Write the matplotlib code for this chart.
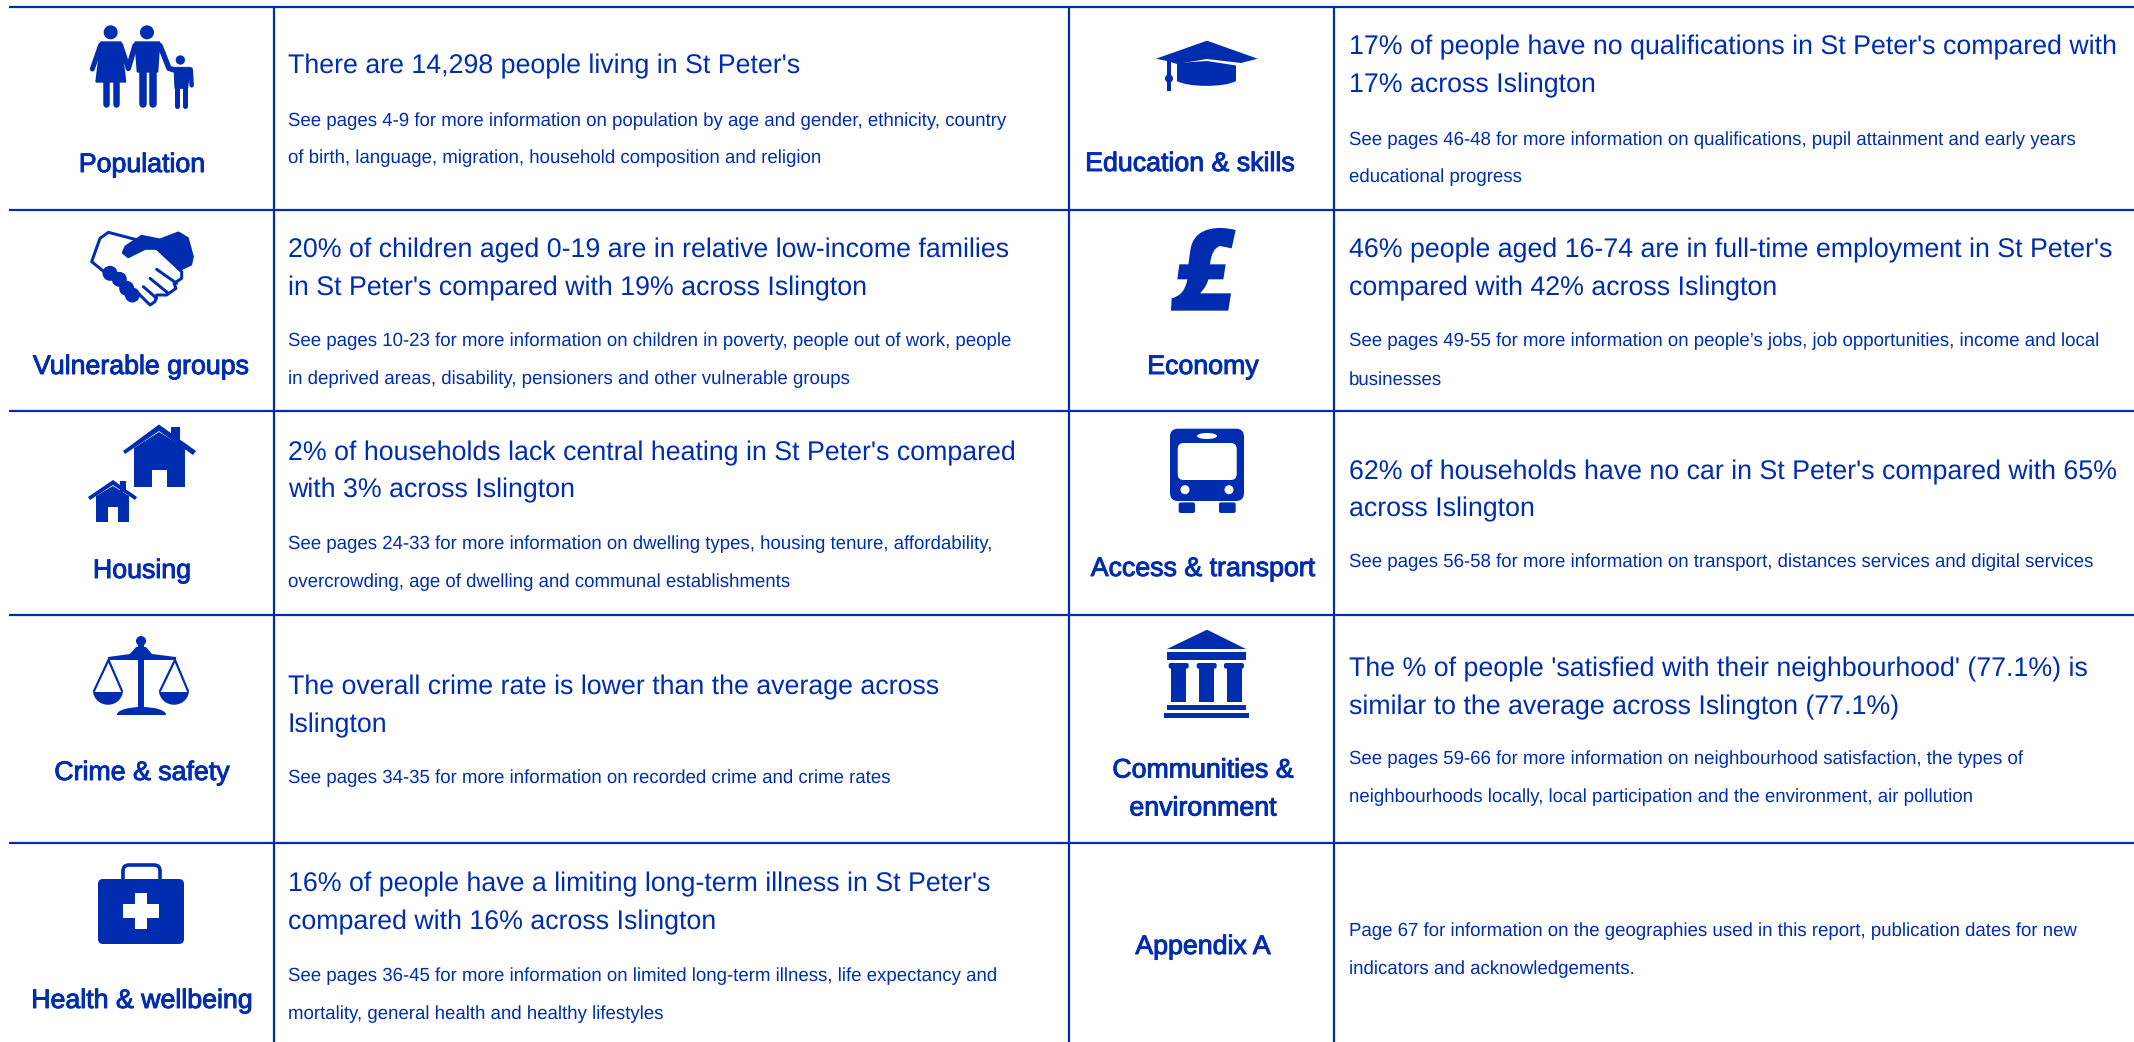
"""
St Peter's ward profile contents page: two-column table with icons.
Everything is drawn in figure pixels (y pointing down).
"""
import matplotlib
matplotlib.use('Agg')
import matplotlib.pyplot as plt
import matplotlib.patheffects as pe
from matplotlib.patches import Circle, Ellipse, FancyBboxPatch, PathPatch, Polygon, Rectangle
from matplotlib.path import Path

plt.rcParams['font.family'] = ['Liberation Sans', 'DejaVu Sans']
plt.rcParams['text.hinting'] = 'no_hinting'

BLUE = '#002DAF'
W, H = 2134, 1042
HEAD_PT = 19.22
DETAIL_PT = 13.42
LABEL_PT = 19.25

left_labels = ['Population', 'Vulnerable groups', 'Housing', 'Crime & safety', 'Health & wellbeing']
right_labels = ['Education & skills', 'Economy', 'Access & transport',
                'Communities &\nenvironment', 'Appendix A']

left_heads = [
    ["There are 14,298 people living in St Peter's"],
    ['20% of children aged 0-19 are in relative low-income families',
     "in St Peter's compared with 19% across Islington"],
    ["2% of households lack central heating in St Peter's compared",
     'with 3% across Islington'],
    ['The overall crime rate is lower than the average across', 'Islington'],
    ["16% of people have a limiting long-term illness in St Peter's",
     'compared with 16% across Islington'],
]
left_details = [
    ['See pages 4-9 for more information on population by age and gender, ethnicity, country',
     'of birth, language, migration, household composition and religion'],
    ['See pages 10-23 for more information on children in poverty, people out of work, people',
     'in deprived areas, disability, pensioners and other vulnerable groups'],
    ['See pages 24-33 for more information on dwelling types, housing tenure, affordability,',
     'overcrowding, age of dwelling and communal establishments'],
    ['See pages 34-35 for more information on recorded crime and crime rates'],
    ['See pages 36-45 for more information on limited long-term illness, life expectancy and',
     'mortality, general health and healthy lifestyles'],
]
right_heads = [
    ["17% of people have no qualifications in St Peter's compared with",
     '17% across Islington'],
    ["46% people aged 16-74 are in full-time employment in St Peter's",
     'compared with 42% across Islington'],
    ["62% of households have no car in St Peter's compared with 65%",
     'across Islington'],
    ["The % of people 'satisfied with their neighbourhood' (77.1%) is",
     'similar to the average across Islington (77.1%)'],
    [],
]
right_details = [
    ['See pages 46-48 for more information on qualifications, pupil attainment and early years',
     'educational progress'],
    ["See pages 49-55 for more information on people\u2019s jobs, job opportunities, income and local",
     'businesses'],
    ['See pages 56-58 for more information on transport, distances services and digital services'],
    ['See pages 59-66 for more information on neighbourhood satisfaction, the types of',
     'neighbourhoods locally, local participation and the environment, air pollution'],
    ['Page 67 for information on the geographies used in this report, publication dates for new',
     'indicators and acknowledgements.'],
]

# layout, in pixels
row_lines = [7, 210, 411, 615, 843]
col_lines = [274, 1069, 1334]
left_label_x = [142, 141, 142, 142, 142]
right_label_x = [1190, 1203, 1203, 1203, 1203]
left_label_y = [172, 374, 578, 780, 1008]
right_label_y = [171, 374, 576, 777.5, 954]
left_head_y = [[73.5], [257.5, 295.5], [460, 497], [694, 732], [891.5, 929.5]]
left_detail_y = [[126.5, 163.5], [346.5, 384.5], [549.5, 587.5], [783.5], [981, 1019]]
right_head_y = [[54.5, 92.5], [257.5, 295.5], [479, 516], [676, 714], []]
right_detail_y = [[145, 182.5], [346.5, 384.5], [567.5], [764.5, 802.5], [936.5, 974.5]]

fig = plt.figure(figsize=(W / 100, H / 100), dpi=100)
ax = fig.add_axes([0, 0, 1, 1])
ax.set_xlim(0, W)
ax.set_ylim(H, 0)
ax.axis('off')


def fill(points, color=BLUE, z=3, round_px=0):
    ax.add_patch(Polygon(points, closed=True, fc=color, ec=color if round_px else 'none',
                         lw=round_px * 0.72, joinstyle='round', zorder=z))


def rect(x0, y0, x1, y1, color=BLUE, z=3):
    ax.add_patch(Rectangle((x0, y0), x1 - x0, y1 - y0, fc=color, ec='none', zorder=z))


def round_rect(x0, y0, x1, y1, r, color=BLUE, z=3):
    ax.add_patch(FancyBboxPatch((x0 + r, y0 + r), x1 - x0 - 2 * r, y1 - y0 - 2 * r,
                                boxstyle=f'round,pad={r},rounding_size={r}',
                                fc=color, ec='none', zorder=z))


def stroke(points, width, color=BLUE, z=3):
    xs, ys = zip(*points)
    ax.plot(xs, ys, color=color, lw=width * 0.72, solid_capstyle='round',
            solid_joinstyle='round', zorder=z)


def disc(x, y, r, color=BLUE, z=3):
    ax.add_patch(Circle((x, y), r, fc=color, ec='none', zorder=z))


def curve(verts, codes, color=BLUE, z=3):
    ax.add_patch(PathPatch(Path(verts, codes), fc=color, ec='none', zorder=z))


def z3(points, dx=0):
    return [(x / 3 + dx, y / 3) for x, y in points]


def draw_people():
    for x, y, r in [(332, 97, 21), (441, 97, 21), (541, 180, 14)]:
        disc(x / 3, y / 3, r / 3)
    # woman
    fill(z3([(303, 127), (362, 127), (376, 245), (289, 245)]), round_px=2)
    stroke(z3([(302, 135), (277, 207)]), 5)
    stroke(z3([(362, 135), (385, 205)]), 5)
    stroke(z3([(318, 245), (318, 313)]), 6.5)
    stroke(z3([(347, 245), (347, 313)]), 6.5)
    # man
    fill(z3([(406, 127), (478, 127), (472, 215), (413, 215)]), round_px=2)
    stroke(z3([(405, 137), (385, 205)]), 5.5)
    stroke(z3([(480, 137), (507, 205), (530, 212)]), 5.5)
    stroke(z3([(428, 210), (428, 313)]), 7.5)
    stroke(z3([(459, 210), (459, 313)]), 7.5)
    # child
    fill(z3([(522, 202), (570, 202), (563, 265), (525, 265)]), round_px=1)
    stroke(z3([(572, 208), (575, 256)]), 4.5)
    stroke(z3([(532, 260), (532, 317)]), 5)
    stroke(z3([(556, 260), (556, 317)]), 5)


def draw_handshake():
    # left hand outline
    stroke(z3([(405, 718), (325, 697), (300, 715), (275, 785), (312, 815)]), 3)
    for x, y in [(330, 820), (358, 838), (380, 865), (397, 885)]:
        disc(x / 3, y / 3, 7.5)
    # right hand lower fingers
    stroke(z3([(470, 745), (545, 815), (545, 835), (522, 850), (528, 865), (500, 885),
               (470, 885), (465, 905), (450, 915), (415, 880)]), 3)
    stroke(z3([(470, 808), (530, 850)]), 3)
    stroke(z3([(450, 835), (505, 880)]), 3)
    stroke(z3([(430, 860), (470, 895)]), 3)
    # right hand
    fill(z3([(378, 740), (425, 709), (480, 720), (535, 699), (562, 715), (577, 770),
             (572, 793), (540, 808), (472, 745), (435, 745), (385, 770), (370, 758)]), round_px=3)


def draw_houses():
    # big house
    rect(171, 427, 180, 440)
    fill([(134, 448), (159, 432), (185, 448), (185, 487), (167, 487), (167, 470),
          (152, 470), (152, 487), (134, 487)])
    fill([(159, 424.5), (196, 451), (193, 455), (159, 431), (125, 454), (123, 451)])
    # small house
    rect(120, 481, 126, 492)
    fill([(96, 496), (113, 486), (129, 496), (129, 522), (118, 522), (118, 507),
          (108, 507), (108, 522), (96, 522)])
    fill([(113, 480), (137, 497), (135, 500), (113, 485), (90, 500), (88, 497)])


def draw_scales():
    disc(141, 641, 5)
    fill([(108, 657), (130, 654), (136, 647), (146, 647), (152, 654), (176, 657), (176, 660), (108, 660)])
    rect(138, 640, 144, 708)
    ax.add_patch(Ellipse((141.5, 714.5), 49, 15, fc=BLUE, ec='none', zorder=3))
    rect(110, 714.5, 172, 722, color='white', z=4)
    for top_x, lo, hi in [(108.5, 93, 123), (175, 159, 189)]:
        stroke([(lo + 1, 691), (top_x, 660), (hi - 1, 691)], 2.2)
        curve([(lo, 692), (lo + 3, 709), (hi - 3, 709), (hi, 692), (lo, 692)],
              [Path.MOVETO, Path.CURVE4, Path.CURVE4, Path.CURVE4, Path.CLOSEPOLY])


def draw_medical():
    round_rect(98, 879, 184, 944, 5)
    ax.add_patch(FancyBboxPatch((125, 867), 33, 20, boxstyle='round,pad=2,rounding_size=6',
                                fc='none', ec=BLUE, lw=2.6, zorder=2))
    rect(135, 893, 147, 929, color='white')
    rect(123, 904, 159, 918, color='white')


def draw_cap():
    fill([(1156, 58.7), (1207, 40.7), (1257.7, 58.7), (1241, 63), (1207, 59), (1177, 64), (1167, 61)])
    curve([(1177, 63), (1207, 61), (1236, 65.5), (1236, 81), (1225, 87.5), (1188, 87.5), (1177, 81), (1177, 63)],
          [Path.MOVETO, Path.LINETO, Path.LINETO, Path.LINETO, Path.CURVE4, Path.CURVE4, Path.CURVE4,
           Path.CLOSEPOLY])
    rect(1167, 60, 1171, 90.5)
    disc(1169, 78.5, 4)


def draw_pound():
    pts = z3([(527, 690), (480, 678), (405, 678), (392, 745), (385, 793), (358, 793), (352, 838),
              (382, 838), (375, 885), (335, 895), (333, 932), (505, 932), (513, 880), (420, 880),
              (440, 860), (445, 838), (490, 838), (497, 793), (450, 793), (455, 745), (480, 738),
              (515, 745), (527, 690)], dx=1060)
    c3, c4, l = Path.CURVE3, Path.CURVE4, Path.LINETO
    codes = [Path.MOVETO, c4, c4, c4, l, l, l, l, c3, c3, l, l, l, l, c3, c3, l, l, l, c3, c3, l,
             Path.CLOSEPOLY]
    curve(pts, codes)


def draw_bus():
    round_rect(1170, 428.7, 1244, 501, 8)
    round_rect(1177.7, 443, 1236.7, 480, 6, color='white', z=4)
    ax.add_patch(Ellipse((1207, 436), 20, 6, fc='white', ec='none', zorder=4))
    disc(1185, 489.7, 4.5, color='white', z=4)
    disc(1229, 489.7, 4.5, color='white', z=4)
    round_rect(1178.7, 502.4, 1195, 513, 2)
    round_rect(1219, 502.4, 1235.7, 513, 2)


def draw_temple():
    fill([(1207, 629.7), (1246, 649), (1167, 649)])
    rect(1167, 651.8, 1246, 660.4)
    for cap_x, body_x in [(1168.7, 1171), (1196.7, 1199), (1224, 1227)]:
        round_rect(cap_x, 663, cap_x + 20, 668.6, 2)
        rect(body_x, 668, body_x + 15, 702)
    rect(1167, 704.6, 1246, 709.5)
    rect(1164, 713, 1249, 718)


# grid
for y in row_lines:
    ax.plot([9, W], [y, y], color=BLUE, lw=1.6, solid_capstyle='butt', zorder=2)
for x in col_lines:
    ax.plot([x, x], [row_lines[0], H], color=BLUE, lw=1.6, solid_capstyle='butt', zorder=2)

bold_look = [pe.withStroke(linewidth=0.7, foreground=BLUE)]


def put_lines(x, baselines, lines, size):
    for y, line in zip(baselines, lines):
        ax.text(x, y, line, fontsize=size, color=BLUE, ha='left', va='baseline', zorder=5)


# left column text
for i, label in enumerate(left_labels):
    ax.text(left_label_x[i], left_label_y[i], label, fontsize=LABEL_PT, color=BLUE, ha='center',
            va='baseline', path_effects=bold_look, zorder=5)
    put_lines(288, left_head_y[i], left_heads[i], HEAD_PT)
    put_lines(288, left_detail_y[i], left_details[i], DETAIL_PT)

# right column text
for i, label in enumerate(right_labels):
    parts = label.split('\n')
    ys = [right_label_y[i]] if len(parts) == 1 else [right_label_y[i], right_label_y[i] + 38]
    for part, y in zip(parts, ys):
        ax.text(right_label_x[i], y, part, fontsize=LABEL_PT, color=BLUE, ha='center',
                va='baseline', path_effects=bold_look, zorder=5)
    put_lines(1349, right_head_y[i], right_heads[i], HEAD_PT)
    put_lines(1349, right_detail_y[i], right_details[i], DETAIL_PT)

draw_people()
draw_handshake()
draw_houses()
draw_scales()
draw_medical()
draw_cap()
draw_pound()
draw_bus()
draw_temple()

fig.savefig('out.png', dpi=100, facecolor='white')
